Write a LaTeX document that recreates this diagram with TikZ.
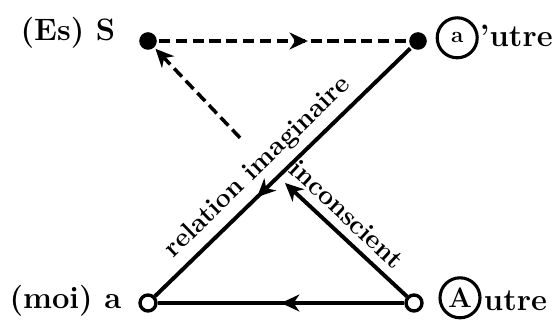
\documentclass[tikz,border=0pt]{standalone}
\usepackage{tikz}
\usetikzlibrary{positioning, arrows.meta, decorations.markings}

\begin{document}
\begin{tikzpicture}[>={Stealth[length=13pt,width=12pt,inset=4pt]}, line width=2.8pt,
  fulldot/.style={circle, fill=black, inner sep=0pt, minimum size=0.44cm},
  opendot/.style={circle, draw, fill=white, line width=2.4pt, inner sep=0pt, minimum size=0.4cm},
  ringed/.style={circle, draw, line width=2.2pt, inner sep=0pt, minimum size=1cm},
  lab/.style={font=\fontsize{22}{26}\selectfont\bfseries, inner sep=0pt},
  slab/.style={font=\fontsize{19}{22}\selectfont\bfseries, inner sep=1pt},
  dashline/.style={line width=2.5pt, dash pattern=on 8pt off 4pt},
  midarrow/.style={postaction={decorate}, decoration={markings,
      mark=at position #1 with {\arrow{>}}}}]

\useasboundingbox (0,0) rectangle (13.85,8.225);

% --- the four corners ---
\node[fulldot] (S) at (3.7,7.2) {};
\node[fulldot] (aP) at (10.45,7.2) {};
\node[opendot] (a) at (3.7,0.65) {};
\node[opendot] (A) at (10.35,0.65) {};

% --- corner labels ---
\node[lab, anchor=base east] (EsS) at (2.93,7.22) {(Es) S};
\node[lab, anchor=base east] (moia) at (3.08,0.5) {(moi) a};
\node[ringed] (aRing) at (11.43,7.28) {\fontsize{16}{18}\selectfont\bfseries a};
\node[lab, anchor=base west] (utreP) at (11.95,7.05) {'utre};
\node[ringed] (ARing) at (11.5,0.78) {\fontsize{20}{22}\selectfont\bfseries A};
\node[lab, anchor=base west] (utreA) at (12.05,0.45) {utre};

% --- free ends ---
\coordinate (tipI) at (7.125,3.65);
\coordinate (dashEnd) at (6.0,4.78);

% --- connectors ---
\draw[dashline, midarrow=0.6] (S) -- (aP);
\draw[midarrow=0.6] (aP) -- (a);
\draw[midarrow=0.5] (A) -- (a);
\draw[->] (A) -- (tipI);
\draw[dashline, ->] (dashEnd) -- (S);

% --- line labels ---
\path (a) -- node[slab, sloped, above=4pt, pos=0.46] (relim) {relation imaginaire} (aP);
\path (tipI) -- node[slab, sloped, above=5pt, pos=0.4] (incon) {inconscient} (A);

\end{tikzpicture}
\end{document}
